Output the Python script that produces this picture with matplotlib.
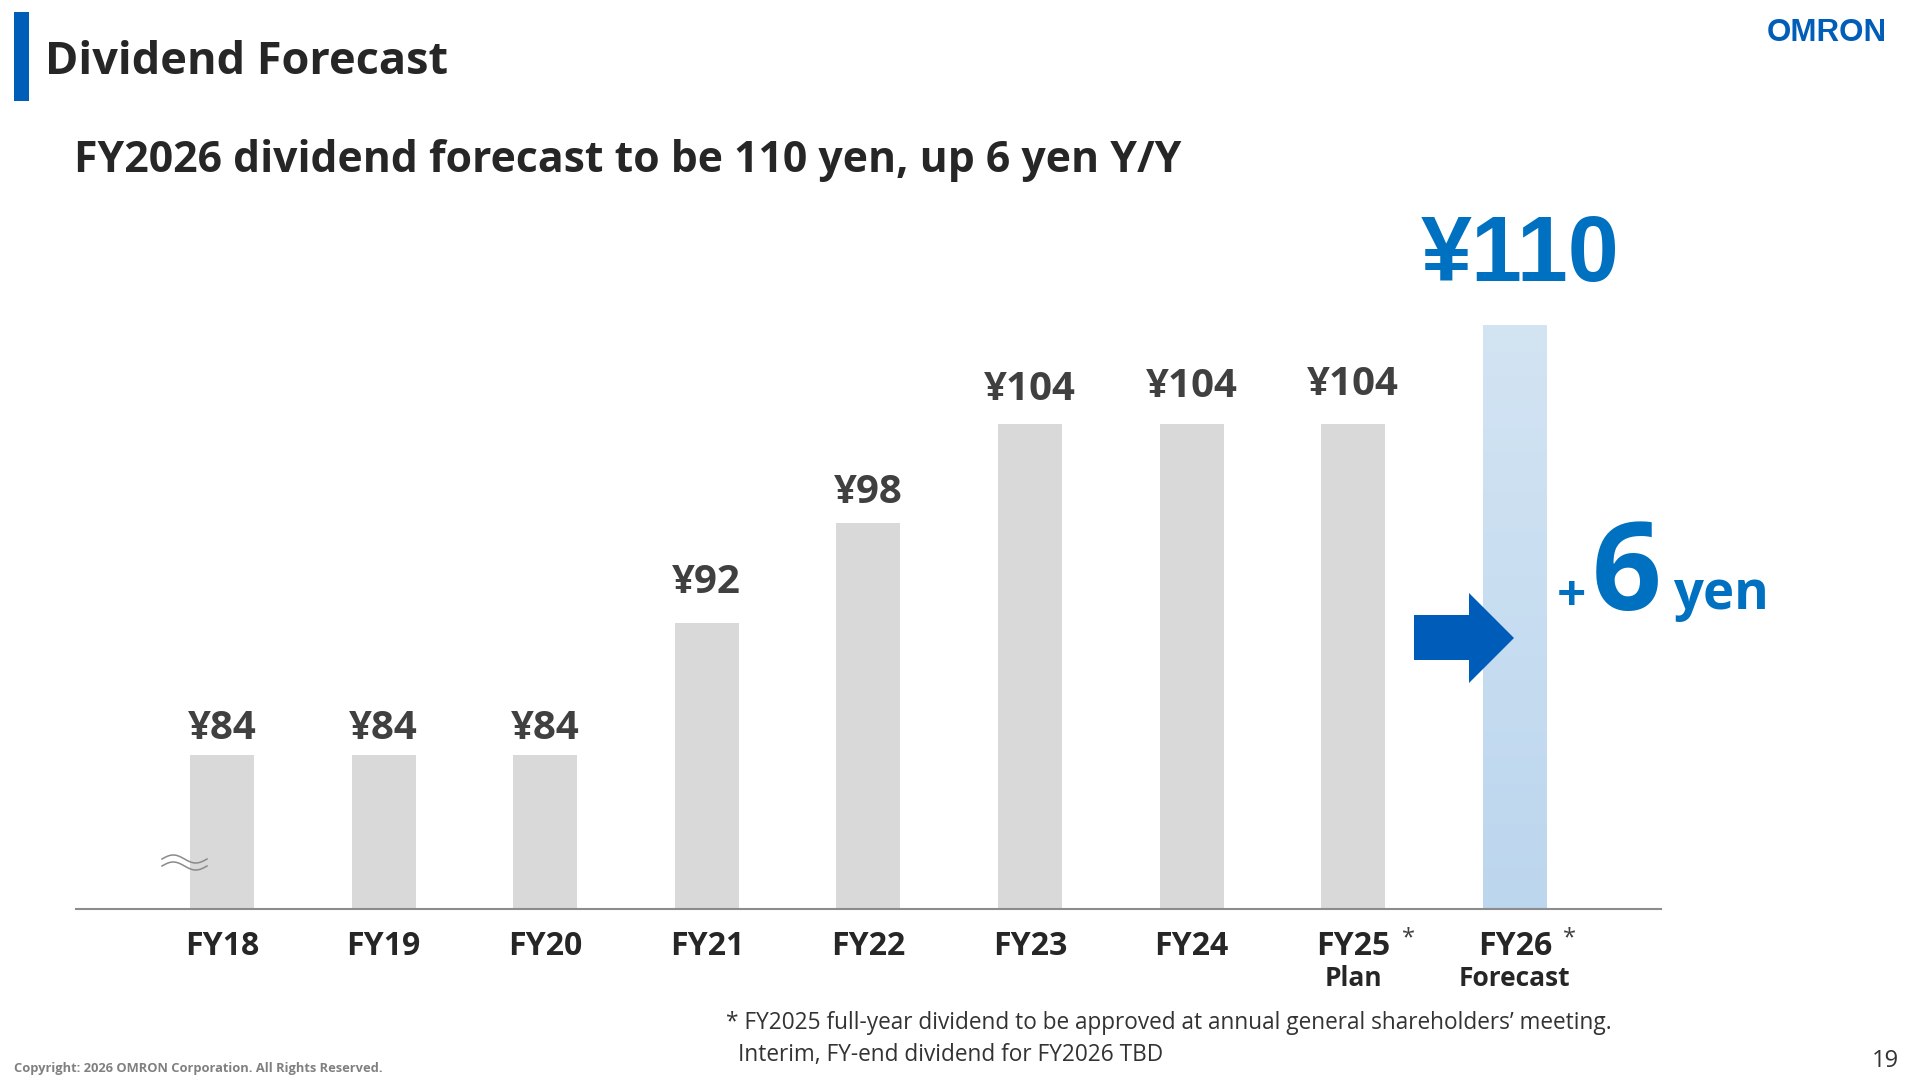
import numpy as np
import matplotlib.pyplot as plt
from matplotlib.patches import Rectangle, Polygon
from matplotlib.lines import Line2D
from matplotlib.colors import LinearSegmentedColormap

# chart data
years = ["FY18", "FY19", "FY20", "FY21", "FY22", "FY23", "FY24", "FY25", "FY26"]
sub_labels = ["", "", "", "", "", "", "", "Plan", "Forecast"]
starred = [False, False, False, False, False, False, False, True, True]
dividends = [84, 84, 84, 92, 98, 104, 104, 104, 110]

# small per-bar gap (px) between bar top and value label, as on the slide
label_gap_px = [16, 16, 16, 30, 20, 24, 27, 29]

W, H = 1920, 1080
PT = 0.72  # px -> pt at dpi 100

GREY = "#d9d9d9"
DARK = "#262626"
LABEL = "#404040"
BLUE = "#0070c0"
NAVY = "#005eb8"

plt.rcParams["font.family"] = ["Open Sans", "DejaVu Sans"]


def fx(px):
    return px / W


def fy(py):
    return 1 - py / H


fig = plt.figure(figsize=(19.2, 10.8), dpi=100)

# plot area: axis line from x=76 to 1661 px, baseline at y=909 px
ax_l, ax_r, ax_b, ax_t = 76, 1661, 909, 200
ax = fig.add_axes([fx(ax_l), fy(ax_b), (ax_r - ax_l) / W, (ax_b - ax_t) / H])

px_per_yen = 16.55
y0 = 84 - (ax_b - 755) / px_per_yen
ax.set_ylim(y0, y0 + (ax_b - ax_t) / px_per_yen)
step = 161.6
ax.set_xlim((ax_l - 222) / step, (ax_r - 222) / step)

x = np.arange(len(years))
bw = 0.395
n = len(years) - 1

ax.bar(x[:n], dividends[:n], width=bw, color=GREY, zorder=2)

# forecast bar with a soft vertical gradient
fc = ax.bar(x[n], dividends[n], width=bw, color="#c6dcf0", zorder=2)[0]
cmap = LinearSegmentedColormap.from_list("fc", ["#d3e4f3", "#bcd6ee"])
grad = np.linspace(0, 1, 256).reshape(-1, 1)
im = ax.imshow(grad, cmap=cmap, aspect="auto", origin="upper", zorder=3,
               extent=[x[n] - bw / 2, x[n] + bw / 2, y0, dividends[n]])
im.set_clip_path(fc)

for s in ["top", "right", "left"]:
    ax.spines[s].set_visible(False)
ax.spines["bottom"].set_color("#8c8c8c")
ax.spines["bottom"].set_linewidth(1.5)
ax.spines["bottom"].set_zorder(4)
ax.set_xticks([])
ax.set_yticks([])

# value labels
for i in range(n):
    ax.annotate(f"¥{dividends[i]}", xy=(x[i], dividends[i]),
                xytext=(0, label_gap_px[i] * PT), textcoords="offset points",
                ha="center", va="baseline", fontsize=29, fontweight="bold",
                color=LABEL)
ax.annotate(f"¥{dividends[n]}", xy=(x[n], dividends[n]),
            xytext=(5 * PT, 44 * PT), textcoords="offset points",
            ha="center", va="baseline", fontsize=66, fontweight="bold",
            family=["Liberation Sans", "DejaVu Sans"], color=BLUE)

# category labels under the axis
xt = ax.get_xaxis_transform()
for i, name in enumerate(years):
    ax.annotate(name, xy=(x[i], 0), xycoords=xt, xytext=(0, -46 * PT),
                textcoords="offset points", ha="center", va="baseline",
                fontsize=23, fontweight="bold", color=DARK, annotation_clip=False)
    if sub_labels[i]:
        ax.annotate(sub_labels[i], xy=(x[i], 0), xycoords=xt, xytext=(0, -77 * PT),
                    textcoords="offset points", ha="center", va="baseline",
                    fontsize=19, fontweight="bold", color=DARK, annotation_clip=False)
    if starred[i]:
        ax.annotate("*", xy=(x[i], 0), xycoords=xt, xytext=(55 * PT, -35 * PT),
                    textcoords="offset points", ha="center", va="baseline",
                    fontsize=17, color=LABEL, annotation_clip=False)

# axis break mark near the first bar
t = np.linspace(0, 1, 60)
for dy in (0, 7):
    xs = 162 + 45 * t
    ys = 859 + dy - 4 * np.sin(2 * np.pi * t)
    fig.add_artist(Line2D(fx(xs), fy(ys), color="#8a8a8a", lw=1.1, zorder=5))

# arrow to the forecast bar
arrow = [(1414, 615), (1469, 615), (1469, 593), (1514, 638),
         (1469, 683), (1469, 660), (1414, 660)]
fig.add_artist(Polygon([(fx(a), fy(b)) for a, b in arrow], closed=True,
                       facecolor="#005cb9", edgecolor="none", zorder=6))

# +6 yen callout
fig.text(fx(1571), fy(611), "+", ha="center", va="baseline", fontsize=37,
         fontweight="bold", color=BLUE)
fig.text(fx(1592), fy(610), "6", ha="left", va="baseline", fontsize=88,
         fontweight="bold", color=BLUE)
fig.text(fx(1673), fy(609), "yen", ha="left", va="baseline", fontsize=38,
         fontweight="bold", color=BLUE)

# header
fig.add_artist(Rectangle((fx(14), fy(101)), 15 / W, 89 / H, color=NAVY, lw=0))
fig.text(fx(45), fy(74), "Dividend Forecast", ha="left", va="baseline",
         fontsize=32.5, fontweight="bold", color=DARK)
fig.text(fx(74), fy(172), "FY2026 dividend forecast to be 110 yen, up 6 yen Y/Y",
         ha="left", va="baseline", fontsize=30.8, fontweight="bold", color=DARK)
fig.text(fx(1887), fy(41), "OMRON", ha="right", va="baseline", fontsize=22.5,
         fontweight="bold", family=["Liberation Sans", "DejaVu Sans"], color=NAVY)

# footer
fig.text(fx(726), fy(1029),
         "* FY2025 full-year dividend to be approved at annual general shareholders\u2019 meeting.",
         ha="left", va="baseline", fontsize=16.3, color="#333333")
fig.text(fx(738), fy(1061), "Interim, FY-end dividend for FY2026 TBD",
         ha="left", va="baseline", fontsize=16.3, color="#333333")
fig.text(fx(14), fy(1072), "Copyright: 2026 OMRON Corporation. All Rights Reserved.",
         ha="left", va="baseline", fontsize=9.3, fontweight="bold", color="#808080")
fig.text(fx(1899), fy(1067), "19", ha="right", va="baseline", fontsize=17,
         color="#333333")

fig.savefig("out.png", dpi=100, facecolor="white")
